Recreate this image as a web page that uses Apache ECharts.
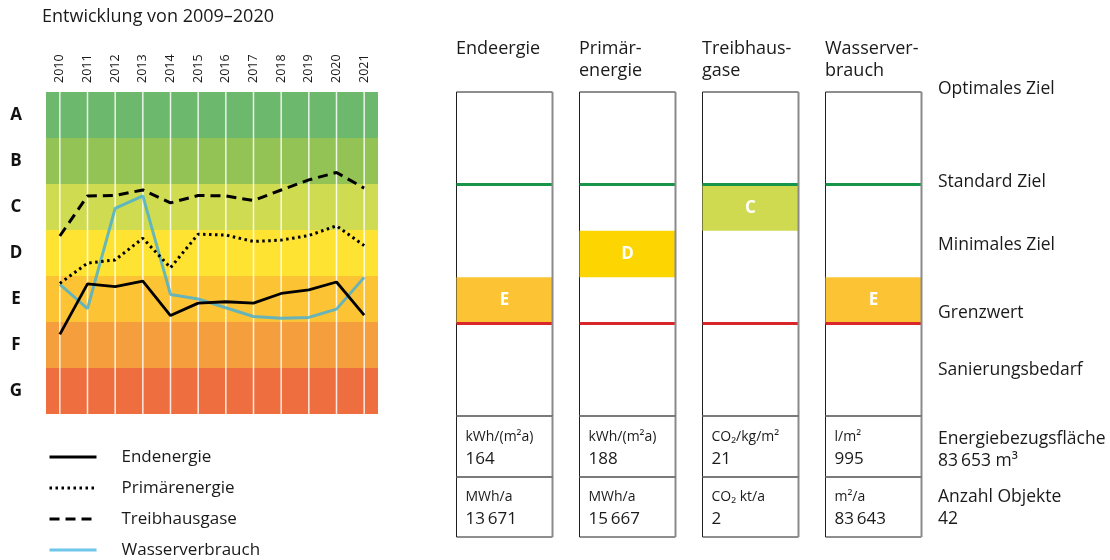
<!DOCTYPE html>
<html>
<head>
<meta charset="utf-8">
<script src="https://cdn.jsdelivr.net/npm/echarts@6/dist/echarts.min.js"></script>
<style>
  html, body { margin: 0; padding: 0; background: #fff; }
  #chart { width: 1110px; height: 560px; }
</style>
</head>
<body>
<div id="chart"></div>
<script>
// ---- data -------------------------------------------------------------
const years = ['2010', '2011', '2012', '2013', '2014', '2015', '2016', '2017', '2018', '2019', '2020', '2021'];

// efficiency classes, bottom (worst) to top (best); one unit per class
const classes = ['G', 'F', 'E', 'D', 'C', 'B', 'A'];
const classColors = ['#ee6e3f', '#f49e3e', '#fcc435', '#fee333', '#cfdb51', '#93c255', '#6cb86d'];

// yearly development on the class scale (0 = bottom of G, 7 = top of A)
const endenergie      = [1.73, 2.83, 2.77, 2.89, 2.14, 2.41, 2.44, 2.41, 2.62, 2.70, 2.87, 2.15];
const primaerenergie  = [2.84, 3.28, 3.35, 3.82, 3.18, 3.91, 3.89, 3.75, 3.78, 3.88, 4.09, 3.66];
const treibhausgase   = [3.87, 4.74, 4.75, 4.87, 4.59, 4.75, 4.74, 4.64, 4.87, 5.09, 5.25, 4.91];
const wasserverbrauch = [2.82, 2.29, 4.47, 4.74, 2.60, 2.50, 2.31, 2.12, 2.08, 2.10, 2.28, 2.97];

// current rating per indicator
const columns = ['Endeergie', 'Primär-\nenergie', 'Treibhaus-\ngase', 'Wasserver-\nbrauch'];
const ratings = ['E', 'D', 'C', 'E'];
const intensityUnits  = ['kWh/(m²a)', 'kWh/(m²a)', 'CO₂/kg/m²', 'l/m²'];
const intensityValues = ['164', '188', '21', '995'];
const totalUnits      = ['MWh/a', 'MWh/a', 'CO₂ kt/a', 'm²/a'];
const totalValues     = ['13\u2009671', '15\u2009667', '2', '83\u2009643'];

// target thresholds on the class scale
const standardZiel = 5;
const grenzwert = 2;

const targetLabels = ['Optimales Ziel', 'Standard Ziel', 'Minimales Ziel', 'Grenzwert', 'Sanierungsbedarf'];
const summaryLabels = ['Energiebezugsfläche', 'Anzahl Objekte'];
const summaryValues = ['83\u2009653 m³', '42'];

// ---- styling ---------------------------------------------------------
const FONT = 'Open Sans';
const TEXT = '#1a1a1a';
const LABEL_SIZE = 17.5;
const ratingColors = { C: '#d0da50', D: '#fdd500', E: '#fcc435' };
const waterColor = 'rgba(76,176,206,0.85)';
const waterLegendColor = '#6ec6ea';

const chart = echarts.init(document.getElementById('chart'), null, { renderer: 'canvas' });

// coloured class bands behind the development lines
function renderBand(params, api) {
  const cs = params.coordSys;
  const k = api.value(1);
  const yTop = api.coord([0, k + 1])[1];
  const yBot = api.coord([0, k])[1];
  return {
    type: 'rect',
    shape: { x: cs.x, y: yTop, width: cs.width, height: yBot - yTop },
    style: { fill: classColors[k] }
  };
}

// white year guides through the band
function renderYearLine(params, api) {
  const cs = params.coordSys;
  const x = api.coord([api.value(0), 0])[0];
  return {
    type: 'line',
    shape: { x1: x, y1: cs.y, x2: x, y2: cs.y + cs.height },
    style: { stroke: 'rgba(255,255,255,0.85)', lineWidth: 1.5 }
  };
}

// one rating column: header, class scale box, rating band, thresholds, value cells
function renderColumn(params, api) {
  const i = api.value(0);
  const k = api.value(1);
  const bandW = api.size([1, 0])[0];
  const w = Math.round(bandW * 0.78);
  const cx = api.coord([i, 0])[0];
  const x0 = Math.round(cx - w / 2) + 0.5;
  const top = api.coord([i, classes.length])[1];
  const bottom = api.coord([i, 0])[1];
  const yStd = api.coord([i, standardZiel])[1];
  const yGrenz = api.coord([i, grenzwert])[1];
  const yBandTop = api.coord([i, k + 1])[1];
  const yBandBot = api.coord([i, k])[1];
  const row1 = 61, row2 = 60;
  const r = ratings[i];

  const box = (y, h) => ({
    type: 'rect',
    shape: { x: x0, y: y, width: w, height: h },
    style: { fill: '#fff', stroke: '#1f1f1f', lineWidth: 1 }
  });
  const rightEdge = (y1, y2) => ({
    type: 'line',
    shape: { x1: x0 + w, y1: y1, x2: x0 + w, y2: y2 },
    style: { stroke: '#8a8a8a', lineWidth: 2 }
  });
  const txt = (x, y, s, size, extra) => ({
    type: 'text',
    style: Object.assign({
      x: x, y: y, text: s, fill: TEXT, fontFamily: FONT, fontSize: size,
      verticalAlign: 'middle', align: 'left'
    }, extra || {})
  });

  return {
    type: 'group',
    children: [
      // header
      {
        type: 'text',
        style: {
          x: x0 - 0.5, y: top - 54, text: columns[i], fill: TEXT, fontFamily: FONT,
          fontSize: 18, lineHeight: 22, verticalAlign: 'top', align: 'left'
        }
      },
      // scale box
      box(top, bottom - top),
      {
        type: 'rect',
        shape: { x: x0, y: yBandTop, width: w, height: yBandBot - yBandTop },
        style: { fill: ratingColors[r] }
      },
      txt(x0 + w / 2, (yBandTop + yBandBot) / 2, r, 17,
          { fill: '#fff', fontWeight: 'bold', align: 'center' }),
      {
        type: 'line',
        shape: { x1: x0, y1: yStd, x2: x0 + w, y2: yStd },
        style: { stroke: '#17964a', lineWidth: 3 }
      },
      {
        type: 'line',
        shape: { x1: x0, y1: yGrenz, x2: x0 + w, y2: yGrenz },
        style: { stroke: '#d9262b', lineWidth: 3 }
      },
      rightEdge(top, bottom),
      // value cells
      box(bottom, row1),
      rightEdge(bottom, bottom + row1),
      txt(x0 + 9, bottom + 21, intensityUnits[i], 14),
      txt(x0 + 9, bottom + 43, intensityValues[i], 17),
      box(bottom + row1, row2),
      rightEdge(bottom + row1, bottom + row1 + row2),
      txt(x0 + 9, bottom + row1 + 20, totalUnits[i], 14),
      txt(x0 + 9, bottom + row1 + 42, totalValues[i], 17),
      {
        type: 'line',
        shape: { x1: x0, y1: bottom, x2: x0 + w, y2: bottom },
        style: { stroke: '#7a7a7a', lineWidth: 2 }
      },
      {
        type: 'line',
        shape: { x1: x0, y1: bottom + row1, x2: x0 + w, y2: bottom + row1 },
        style: { stroke: '#7a7a7a', lineWidth: 2 }
      }
    ]
  };
}

const lineBase = { type: 'line', xAxisIndex: 0, yAxisIndex: 0, symbol: 'none', z: 5, silent: true };

// right-hand annotations
const targetY = [89, 182, 245, 313, 370];
const graphics = targetLabels.map((t, i) => ({
  type: 'text', left: 938, top: targetY[i] - 12,
  style: { text: t, fill: TEXT, fontFamily: FONT, fontSize: LABEL_SIZE, lineHeight: 24 }
}));
const summaryTop = [428, 486];
summaryLabels.forEach((t, i) => {
  graphics.push({
    type: 'text', left: 938, top: summaryTop[i],
    style: { text: t + '\n' + summaryValues[i], fill: TEXT, fontFamily: FONT, fontSize: LABEL_SIZE, lineHeight: 22 }
  });
});

const option = {
  animation: false,
  textStyle: { fontFamily: FONT, color: TEXT },
  title: {
    text: 'Entwicklung von 2009–2020',
    left: 42, top: 8, padding: 0,
    textStyle: { fontFamily: FONT, fontSize: 18, fontWeight: 'normal', color: TEXT }
  },
  legend: {
    orient: 'vertical', left: 48, top: 448, height: 118, padding: 0,
    itemWidth: 47, itemHeight: 18, itemGap: 13,
    lineStyle: { width: 3 },
    itemStyle: { opacity: 0 },
    textStyle: { fontFamily: FONT, fontSize: 17, lineHeight: 18, color: TEXT, padding: [0, 0, 0, 20] },
    data: [
      { name: 'Endenergie' },
      { name: 'Primärenergie' },
      { name: 'Treibhausgase' },
      { name: 'Wasserverbrauch', lineStyle: { color: waterLegendColor } }
    ]
  },
  grid: [
    { left: 46, top: 92, width: 332, height: 322 },
    { left: 442, top: 92, width: 493, height: 324 }
  ],
  xAxis: [
    {
      gridIndex: 0, type: 'category', data: years, position: 'top', boundaryGap: true,
      axisLine: { show: false }, axisTick: { show: false }, splitLine: { show: false },
      axisLabel: { rotate: 90, fontSize: 12.5, margin: 9, color: TEXT, fontFamily: FONT }
    },
    {
      gridIndex: 1, type: 'category', data: columns, show: false, boundaryGap: true
    }
  ],
  yAxis: [
    { gridIndex: 0, type: 'value', min: 0, max: classes.length, show: false },
    {
      gridIndex: 0, type: 'category', data: classes, position: 'left', boundaryGap: true,
      axisLine: { show: false }, axisTick: { show: false }, splitLine: { show: false },
      axisLabel: { fontSize: 17, fontWeight: 'bold', color: '#111', margin: 30, align: 'center', fontFamily: FONT }
    },
    { gridIndex: 1, type: 'value', min: 0, max: classes.length, show: false }
  ],
  graphic: graphics,
  series: [
    {
      type: 'custom', xAxisIndex: 0, yAxisIndex: 0, z: 1, silent: true,
      renderItem: renderBand, encode: { x: 0, y: 1 },
      data: classes.map((c, k) => [0, k])
    },
    {
      type: 'custom', xAxisIndex: 0, yAxisIndex: 0, z: 2, silent: true,
      renderItem: renderYearLine, encode: { x: 0, y: 1 },
      data: years.map((y, i) => [i, 0])
    },
    Object.assign({}, lineBase, {
      name: 'Endenergie', data: endenergie, color: '#000',
      lineStyle: { color: '#000', width: 2.8, type: 'solid' }
    }),
    Object.assign({}, lineBase, {
      name: 'Primärenergie', data: primaerenergie, color: '#000',
      lineStyle: { color: '#000', width: 3, type: [2.5, 3.5] }
    }),
    Object.assign({}, lineBase, {
      name: 'Treibhausgase', data: treibhausgase, color: '#000',
      lineStyle: { color: '#000', width: 3, type: [10, 6] }
    }),
    Object.assign({}, lineBase, {
      name: 'Wasserverbrauch', data: wasserverbrauch, color: waterColor, z: 4,
      lineStyle: { color: waterColor, width: 3, type: 'solid' }
    }),
    {
      type: 'custom', xAxisIndex: 1, yAxisIndex: 2, z: 3, silent: true, clip: false,
      renderItem: renderColumn, encode: { x: 0, y: 1 },
      data: ratings.map((r, i) => [i, classes.indexOf(r)])
    }
  ]
};

chart.setOption(option);
</script>
</body>
</html>
